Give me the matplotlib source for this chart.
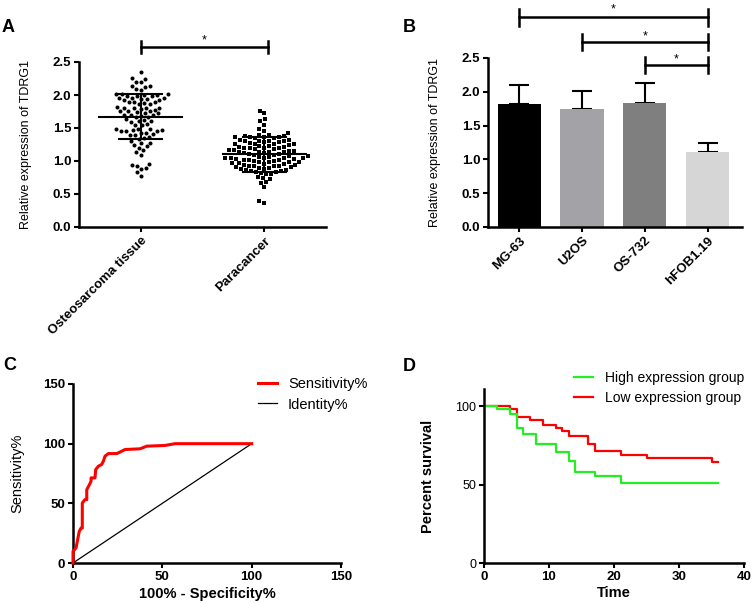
import matplotlib
matplotlib.use('Agg')
import matplotlib.pyplot as plt
import numpy as np

plt.rcParams['font.family'] = ['Liberation Sans', 'DejaVu Sans']

# ---------------- Data ----------------
# Panel A
groups_a = ['Osteosarcoma tissue', 'Paracancer']
osteo_vals = [2.35, 2.26, 2.24, 2.20, 2.19, 2.14, 2.13, 2.12, 2.09, 2.08,
              2.02, 2.01, 2.01, 2.00, 2.00, 1.99, 1.99, 1.98,
              1.96, 1.95, 1.95, 1.94, 1.94, 1.93, 1.92,
              1.90, 1.89, 1.89, 1.88, 1.87, 1.86,
              1.82, 1.81, 1.81, 1.80, 1.80, 1.79, 1.78,
              1.76, 1.75, 1.75, 1.74, 1.73, 1.72,
              1.70, 1.69, 1.69, 1.68, 1.67, 1.66,
              1.63, 1.62, 1.61, 1.60, 1.59,
              1.56, 1.55, 1.54,
              1.49, 1.48, 1.48, 1.47, 1.47, 1.46, 1.46, 1.45,
              1.43, 1.42, 1.41, 1.40, 1.40,
              1.36, 1.35, 1.34, 1.30, 1.28, 1.27, 1.24, 1.22, 1.20,
              1.16, 1.13, 1.09, 0.95, 0.94, 0.93, 0.89, 0.88, 0.83, 0.78]
para_vals = [1.76, 1.72, 1.63, 1.60, 1.55, 1.48, 1.46, 1.42,
             1.39, 1.39, 1.38, 1.38, 1.37, 1.37, 1.36, 1.36, 1.35, 1.35,
             1.32, 1.32, 1.31, 1.31, 1.30, 1.30, 1.29, 1.29,
             1.27, 1.26, 1.26, 1.25, 1.25, 1.24,
             1.22, 1.22, 1.21, 1.21, 1.20, 1.20, 1.19, 1.19, 1.18, 1.18,
             1.16, 1.16, 1.15, 1.15, 1.14, 1.14, 1.13, 1.13, 1.12, 1.12,
             1.10, 1.10, 1.09, 1.09,
             1.07, 1.07, 1.06, 1.06, 1.05, 1.05, 1.05, 1.04, 1.04, 1.03, 1.03, 1.02,
             1.01, 1.01, 1.00, 1.00, 0.99, 0.99, 0.98, 0.98, 0.97, 0.97, 0.96, 0.96,
             0.94, 0.94, 0.93, 0.93, 0.92, 0.92, 0.91, 0.91, 0.90, 0.90,
             0.88, 0.88, 0.87, 0.86, 0.85, 0.85, 0.84, 0.84,
             0.82, 0.81, 0.80, 0.76, 0.74, 0.72, 0.68, 0.66, 0.60, 0.39, 0.36]
group_means = [1.67, 1.10]
group_sds = [0.34, 0.27]

# Panel B
cells = ['MG-63', 'U2OS', 'OS-732', 'hFOB1.19']
cell_means = [1.82, 1.75, 1.83, 1.11]
cell_errs = [0.28, 0.26, 0.30, 0.13]
cell_colors = ['#000000', '#a3a3a7', '#7f7f7f', '#d6d6d6']
sig_pairs_b = [(0, 3), (1, 3), (2, 3)]
sig_heights_b = [3.10, 2.74, 2.40]

# Panel C (ROC)
roc_fpr = [0, 0, 1.7, 2.6, 3.5, 4.5, 5.2, 5.2, 6.7, 7.7, 7.7, 9.2, 10.1, 10.1,
           12.3, 12.7, 14.2, 16.0, 17.0, 17.9, 19.8, 24.5, 27.3, 29.1, 37.5,
           41.3, 51.5, 57.1, 100]
roc_tpr = [0, 9.8, 12.6, 19.6, 26.5, 29.3, 29.3, 50.3, 53.1, 53.1, 61.5, 65.7,
           68.5, 71.3, 71.3, 78.3, 81.1, 82.5, 85.3, 89.5, 91.7, 91.7, 93.7,
           95.1, 95.7, 97.9, 98.5, 100, 100]
identity = [0, 100]

# Panel D (Kaplan-Meier)
high_t = [0, 2, 4, 5, 6, 8, 11, 13, 14, 17, 21, 36]
high_s = [100, 98.1, 95.3, 86.4, 82.6, 75.6, 70.9, 65.0, 58.2, 55.6, 51.1, 51.1]
low_t = [0, 4, 5, 7, 9, 11, 12, 13, 16, 17, 21, 25, 35, 36]
low_s = [100, 98.5, 93.2, 91.1, 88.3, 86.2, 84.1, 81.1, 76.2, 71.3, 68.8, 67.1, 64.5, 64.5]

# ---------------- Figure ----------------
W, H = 752, 603
fig = plt.figure(figsize=(W / 100, H / 100), dpi=100)


def axes_px(left, right, top, bottom):
    return fig.add_axes([left / W, 1 - bottom / H, (right - left) / W, (bottom - top) / H])


def style(ax, bold_x=True, bold_y=True, size=9.5, ysize=None):
    for s in ['top', 'right']:
        ax.spines[s].set_visible(False)
    for s in ['left', 'bottom']:
        ax.spines[s].set_linewidth(1.8)
    ax.tick_params(width=1.5, length=3.5, direction='out', labelsize=size, pad=2)
    if ysize:
        ax.tick_params(axis='y', labelsize=ysize)
    for lab in ax.get_xticklabels():
        lab.set_fontweight('bold' if bold_x else 'normal')
    for lab in ax.get_yticklabels():
        lab.set_fontweight('bold' if bold_y else 'normal')


def center_labels(ax):
    ax.xaxis.label.set_va('center')
    ax.yaxis.label.set_va('center')


def swarm_x(ax, x0, values, d):
    trans = ax.transData
    ys = trans.transform(np.column_stack([np.full(len(values), x0), values]))[:, 1]
    order = np.argsort(ys)
    placed = []
    offs = np.zeros(len(values))
    for i in order:
        y = ys[i]
        near = [(px, py) for px, py in placed if abs(py - y) < d]
        cands = [0.0]
        for px, py in near:
            dx = np.sqrt(d * d - (py - y) ** 2)
            cands += [px + dx, px - dx]
        cands.sort(key=lambda c: (abs(c), c))
        chosen = 0.0
        for c in cands:
            if all((c - px) ** 2 + (y - py) ** 2 >= d * d - 1e-6 for px, py in near):
                chosen = c
                break
        placed.append((chosen, y))
        offs[i] = chosen
    p0 = trans.transform((x0, 0))[0]
    p1 = trans.transform((x0 + 1, 0))[0]
    return x0 + offs / (p1 - p0)


# ---- Panel A ----
axA = axes_px(79, 326, 62, 227)
axA.set_xlim(-0.5, 1.5)
axA.set_ylim(0, 2.5)
axA.set_yticks([0, 0.5, 1.0, 1.5, 2.0, 2.5])
axA.set_yticklabels(['0.0', '0.5', '1.0', '1.5', '2.0', '2.5'])
axA.set_xticks([0, 1])
axA.set_xticklabels(groups_a, rotation=45, ha='right', rotation_mode='anchor')
for gi, (vals, mk) in enumerate([(osteo_vals, 'o'), (para_vals, 's')]):
    xs = swarm_x(axA, gi, vals, 5.2)
    axA.plot(xs, vals, linestyle='none', marker=mk, ms=2.9, color='black', mew=0)
    m, s = group_means[gi], group_sds[gi]
    axA.plot([gi - 0.335, gi + 0.335], [m, m], color='black', lw=1.5)
    axA.plot([gi - 0.175, gi + 0.175], [m + s, m + s], color='black', lw=1.5)
    axA.plot([gi - 0.175, gi + 0.175], [m - s, m - s], color='black', lw=1.5)
    axA.plot([gi, gi], [m - s, m + s], color='black', lw=1.5)
axA.set_ylabel('Relative expression of TDRG1', fontsize=9)
axA.yaxis.set_label_coords(-0.215, 0.5)
style(axA)
center_labels(axA)
# significance bracket
yb = 2.73
axA.plot([0, 1.03], [yb, yb], color='black', lw=1.8, clip_on=False)
for xx in [0, 1.03]:
    axA.plot([xx, xx], [yb - 0.09, yb + 0.09], color='black', lw=1.8, clip_on=False)
axA.text(0.515, 2.78, '*', ha='center', va='baseline', fontsize=9)

# ---- Panel B ----
axB = axes_px(488, 742, 58, 227)
xb = np.arange(len(cells))
axB.bar(xb, cell_means, width=0.69, color=cell_colors, zorder=2)
axB.errorbar(xb, cell_means, yerr=[np.zeros(len(cells)), cell_errs], fmt='none',
             ecolor='black', elinewidth=1.5, capsize=7.5, capthick=1.5, zorder=1)
axB.set_xlim(-0.5, 3.55)
axB.set_ylim(0, 2.5)
axB.set_yticks([0, 0.5, 1.0, 1.5, 2.0, 2.5])
axB.set_yticklabels(['0.0', '0.5', '1.0', '1.5', '2.0', '2.5'])
axB.set_xticks(xb)
axB.set_xticklabels(cells, rotation=45, ha='right', rotation_mode='anchor')
axB.set_ylabel('Relative expression of TDRG1', fontsize=9)
axB.yaxis.set_label_coords(-0.21, 0.5)
style(axB)
center_labels(axB)
star_base_b = [3.18, 2.77, 2.43]
for (a, b), yy, sy in zip(sig_pairs_b, sig_heights_b, star_base_b):
    axB.plot([a, b], [yy, yy], color='black', lw=1.8, clip_on=False)
    for xx in [a, b]:
        axB.plot([xx, xx], [yy - 0.12, yy + 0.12], color='black', lw=1.8, clip_on=False)
    axB.text((a + b) / 2, sy, '*', ha='center', va='baseline', fontsize=9)

# ---- Panel C ----
axC = axes_px(73, 341, 384, 563)
axC.plot(roc_fpr, roc_tpr, color='#ff0000', lw=2.2, label='Sensitivity%', clip_on=False, zorder=3)
axC.plot(identity, identity, color='black', lw=0.9, label='Identity%')
axC.set_xlim(0, 150)
axC.set_ylim(0, 150)
axC.set_xticks([0, 50, 100, 150])
axC.set_yticks([0, 50, 100, 150])
axC.set_xlabel('100% - Specificity%', fontsize=10.5, fontweight='bold')
axC.xaxis.set_label_coords(0.5, -0.173)
axC.set_ylabel('Sensitivity%', fontsize=10.5)
axC.yaxis.set_label_coords(-0.209, 0.5)
style(axC)
center_labels(axC)
axC.legend(loc='upper left', bbox_to_anchor=(258 / W, 1 - 377 / H),
           bbox_transform=fig.transFigure, frameon=False, fontsize=10.5,
           handlelength=1.3, handletextpad=0.75, borderaxespad=0, borderpad=0,
           labelspacing=0.45)

# ---- Panel D ----
axD = axes_px(484, 744, 389, 563)
axD.step(low_t, low_s, where='post', color='#ff0000', lw=1.6, label='Low expression group')
axD.step(high_t, high_s, where='post', color='#22ee22', lw=1.6, label='High expression group')
axD.set_xlim(0, 40)
axD.set_ylim(0, 111)
axD.set_xticks([0, 10, 20, 30, 40])
axD.set_yticks([0, 50, 100])
axD.set_xlabel('Time', fontsize=10.5, fontweight='bold')
axD.xaxis.set_label_coords(0.5, -0.172)
axD.set_ylabel('Percent survival', fontsize=10.5, fontweight='bold')
axD.yaxis.set_label_coords(-0.215, 0.5)
style(axD, bold_x=True, bold_y=False, ysize=9)
center_labels(axD)
hs, ls = axD.get_legend_handles_labels()
axD.legend(hs[::-1], ls[::-1], loc='upper left', bbox_to_anchor=(574 / W, 1 - 371 / H),
           bbox_transform=fig.transFigure, frameon=False, fontsize=10,
           handlelength=1.4, handletextpad=0.8, borderaxespad=0, borderpad=0,
           labelspacing=0.45)

# ---- Panel letters ----
for letter, x, yb_ in [('A', 2, 32), ('B', 403, 32), ('C', 3, 370), ('D', 403, 371)]:
    fig.text(x / W, 1 - yb_ / H, letter, fontsize=13, fontweight='bold', va='baseline', ha='left')

fig.savefig('out.png', dpi=100)
